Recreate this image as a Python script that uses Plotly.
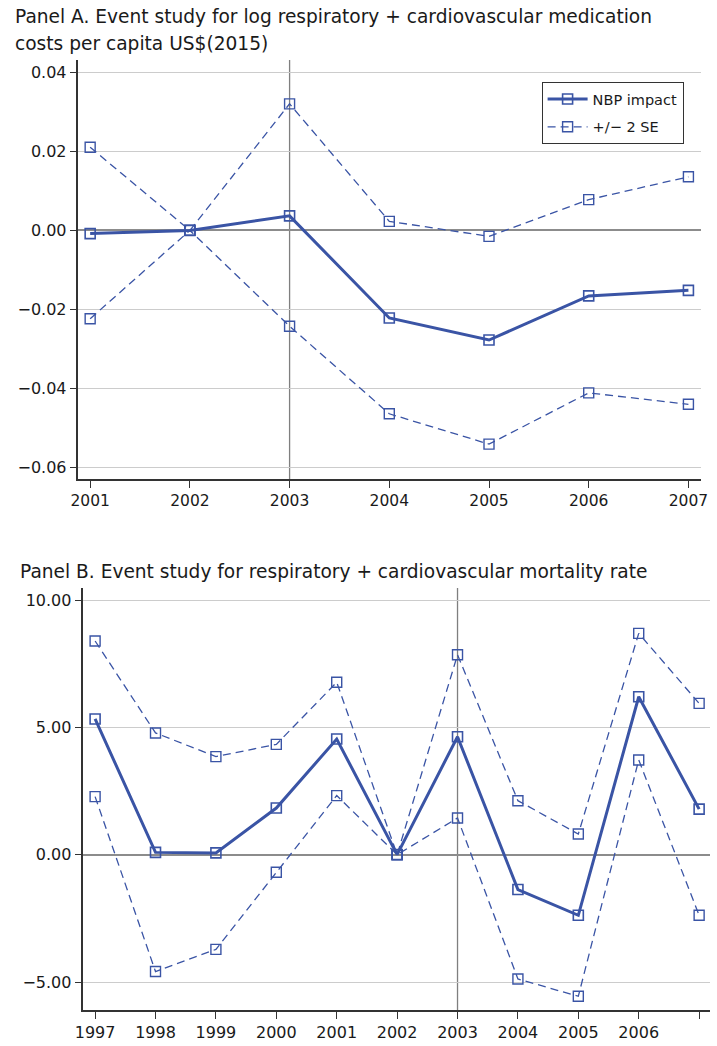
import plotly.graph_objects as go

# ---- Data ----
years_a = [2001, 2002, 2003, 2004, 2005, 2006, 2007]
nbp_a = [-0.0008, 0.0, 0.0037, -0.0222, -0.0278, -0.0166, -0.0152]
upper_a = [0.0211, 0.0, 0.0321, 0.0023, -0.0015, 0.0078, 0.0136]
lower_a = [-0.0224, 0.0, -0.0243, -0.0465, -0.0542, -0.0412, -0.0441]

years_b = [1997, 1998, 1999, 2000, 2001, 2002, 2003, 2004, 2005, 2006, 2007]
nbp_b = [5.33, 0.09, 0.07, 1.83, 4.54, 0.0, 4.63, -1.37, -2.38, 6.20, 1.79]
upper_b = [8.39, 4.78, 3.85, 4.33, 6.77, 0.0, 7.85, 2.12, 0.81, 8.69, 5.94]
lower_b = [2.28, -4.59, -3.72, -0.69, 2.32, 0.0, 1.44, -4.88, -5.56, 3.72, -2.38]

ticks_a_y = [-0.06, -0.04, -0.02, 0.0, 0.02, 0.04]
ticks_b_y = [-5, 0, 5, 10]

title_a1 = "Panel A. Event study for log respiratory + cardiovascular medication"
title_a2 = "costs per capita US$(2015)"
title_b = "Panel B. Event study for respiratory + cardiovascular mortality rate"
event_year = 2003

# ---- Style ----
W, H = 717, 1046
BLUE = "#3a54a5"
FONT = "DejaVu Sans"
TXT = "#1a1a1a"
GRID = "#cccccc"
ZERO = "#8c8c8c"
AXIS = "#333333"

fig = go.Figure()

def add_panel(xs, mid, up, lo, xa, ya, legend):
    fig.add_trace(go.Scatter(
        x=xs, y=mid, mode="lines+markers", name="NBP impact",
        line=dict(color=BLUE, width=3),
        marker=dict(symbol="square-open", size=10, color=BLUE, line=dict(width=1.6)),
        xaxis=xa, yaxis=ya, showlegend=legend, legendgroup="nbp"))
    fig.add_trace(go.Scatter(
        x=xs, y=up, mode="lines+markers", name="+/\u2212 2 SE",
        line=dict(color=BLUE, width=1.3, dash="8px,5px"),
        marker=dict(symbol="square-open", size=10, color=BLUE, line=dict(width=1.4)),
        xaxis=xa, yaxis=ya, showlegend=legend, legendgroup="se"))
    fig.add_trace(go.Scatter(
        x=xs, y=lo, mode="lines+markers", name="+/\u2212 2 SE",
        line=dict(color=BLUE, width=1.3, dash="8px,5px"),
        marker=dict(symbol="square-open", size=10, color=BLUE, line=dict(width=1.4)),
        xaxis=xa, yaxis=ya, showlegend=False, legendgroup="se"))

add_panel(years_a, nbp_a, upper_a, lower_a, "x", "y", True)
add_panel(years_b, nbp_b, upper_b, lower_b, "x2", "y2", False)

def px_x(p):
    return p / W

def px_y(p):
    return 1 - p / H

def axis_style(size):
    return dict(
        showline=True, linecolor=AXIS, linewidth=1.5,
        ticks="outside", ticklen=7, tickwidth=1.3, tickcolor=AXIS,
        tickfont=dict(family=FONT, size=size, color=TXT),
        mirror=False,
    )

fig.update_layout(
    width=W, height=H,
    margin=dict(l=0, r=0, t=0, b=0),
    paper_bgcolor="white", plot_bgcolor="white",
    font=dict(family=FONT, color=TXT),
    modebar=dict(bgcolor="rgba(0,0,0,0)", color="rgba(0,0,0,0)",
                 activecolor="rgba(0,0,0,0)"),
    xaxis=dict(domain=[px_x(72), px_x(708)], range=[2000.883, 2007.128],
               tickvals=years_a, showgrid=False, zeroline=False, anchor="y",
               **axis_style(15.5)),
    yaxis=dict(domain=[px_y(479), px_y(60)], range=[-0.06304, 0.04322],
               tickvals=ticks_a_y, tickformat=".2f", showgrid=True, gridcolor=GRID,
               gridwidth=1.2, zeroline=True, zerolinecolor=ZERO, zerolinewidth=2,
               anchor="x", **axis_style(16)),
    xaxis2=dict(domain=[px_x(77), 1.0], range=[1996.806, 2007.18],
                tickvals=years_b, showgrid=False, zeroline=False, anchor="y2",
                **axis_style(16)),
    yaxis2=dict(domain=[px_y(1010), px_y(588)], range=[-6.099, 10.471],
                tickvals=ticks_b_y, tickformat=".2f", showgrid=True, gridcolor=GRID,
                gridwidth=1.2, zeroline=True, zerolinecolor=ZERO, zerolinewidth=2,
                anchor="x2", **axis_style(16)),
    legend=dict(x=px_x(545), y=px_y(82), xanchor="left", yanchor="top",
                bgcolor="white", bordercolor=AXIS, borderwidth=1,
                font=dict(family=FONT, size=14.5, color=TXT),
                tracegroupgap=6, itemwidth=40),
    showlegend=True,
)

# vertical event lines
for xr, yr in [("x", "y domain"), ("x2", "y2 domain")]:
    fig.add_shape(type="line", xref=xr, yref=yr, x0=event_year, x1=event_year,
                  y0=0, y1=1, line=dict(color="#7f7f7f", width=1.3), layer="below")

# titles
for txt, xx, yy in [(title_a1, 5, 17), (title_a2, 5, 44), (title_b, 10, 571)]:
    fig.add_annotation(text=txt, xref="paper", yref="paper", x=px_x(xx), y=px_y(yy),
                       xanchor="left", yanchor="middle", showarrow=False,
                       font=dict(family=FONT, size=18.6, color=TXT))

post = (
    "document.documentElement.style.overflow='hidden';"
    "document.body.style.margin='0';document.body.style.padding='0';"
    "document.body.style.overflow='hidden';"
)

fig.write_html("out.html", config={"displaylogo": False}, post_script=post)
